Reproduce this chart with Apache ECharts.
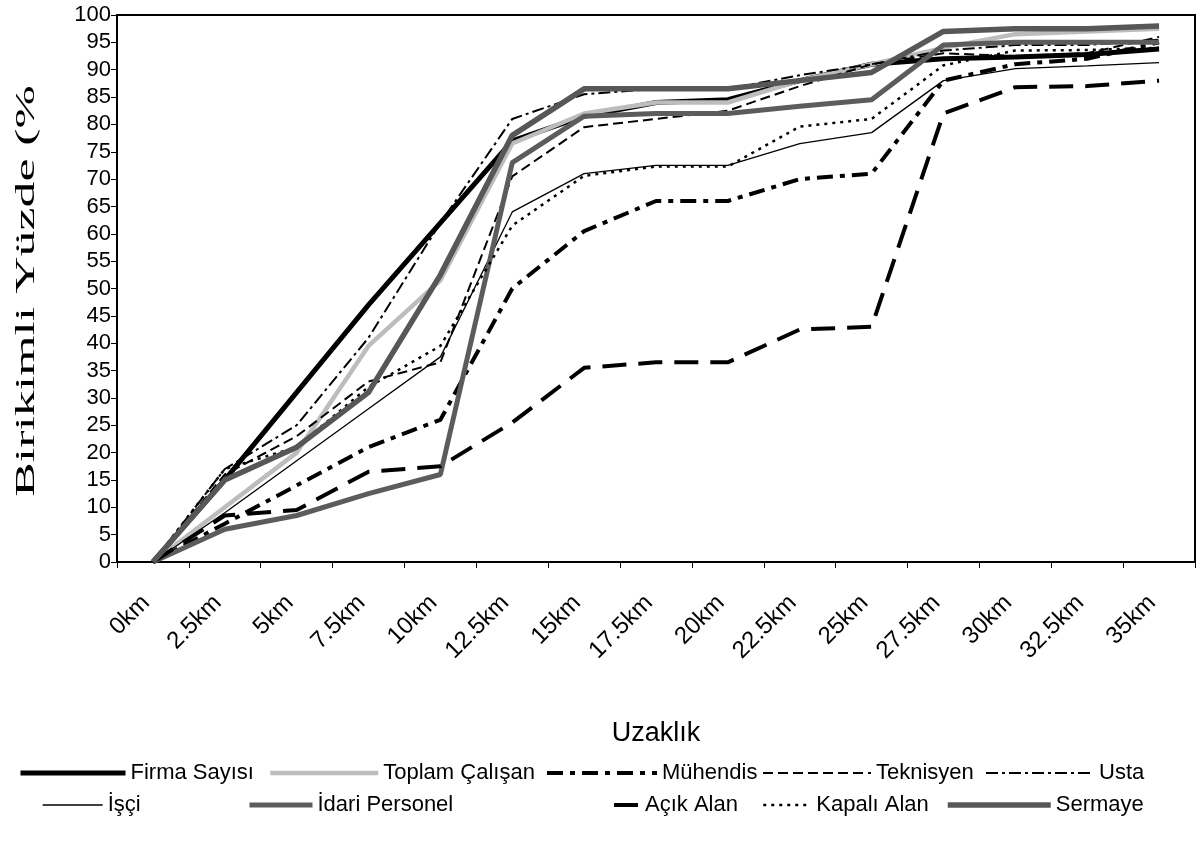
<!DOCTYPE html>
<html>
<head>
<meta charset="utf-8">
<script src="https://cdn.jsdelivr.net/npm/echarts@6/dist/echarts.min.js"></script>
<style>
html,body{margin:0;padding:0;background:#fff;}
#main{width:1202px;height:867px;}
</style>
</head>
<body>
<div id="main"></div>
<script>
// distances on the x axis
var categories = ['0km','2.5km','5km','7.5km','10km','12.5km','15km','17.5km','20km','22.5km','25km','27.5km','30km','32.5km','35km'];

// cumulative percentages
var firma     = [0, 15, 31, 47, 62, 77, 81.5, 84, 84.5, 88, 91, 92, 92.3, 92.8, 93.8];
var toplam    = [0, 10, 20, 39.5, 51.5, 76.5, 82, 84, 84, 88, 91, 94, 96.5, 97, 97.5];
var muhendis  = [0, 7, 14, 21, 26, 50, 60.5, 66, 66, 70, 71, 88, 91, 92, 95];
var teknisyen = [0, 16, 23, 33, 36.5, 70.5, 79.5, 81, 82.5, 87, 91, 93, 92.5, 93, 96];
var usta      = [0, 17, 25, 41, 62, 81, 85.5, 86.5, 86.5, 89, 91, 93.5, 94.5, 94.5, 95.5];
var isci      = [0, 9, 18.5, 28, 37.5, 64, 71, 72.5, 72.5, 76.5, 78.5, 88, 90.2, 90.7, 91.3];
var idari     = [0, 6, 8.5, 12.5, 16, 73, 81.5, 82, 82, 83.3, 84.5, 94.5, 95, 95, 95];
var acik      = [0, 8.5, 9.5, 16.5, 17.5, 25.5, 35.5, 36.5, 36.5, 42.5, 43, 82, 86.8, 87, 88];
var kapali    = [0, 17, 21, 32, 39.5, 61.5, 70.6, 72.3, 72.3, 79.6, 81, 90.8, 93.5, 93.6, 94];
var sermaye   = [0, 15, 21, 31, 52.5, 78, 86.5, 86.5, 86.5, 88, 89.5, 97, 97.5, 97.5, 98];

var names = ['Firma Sayısı','Toplam Çalışan','Mühendis','Teknisyen','Usta','İşçi','İdari Personel','Açık Alan','Kapalı Alan','Sermaye'];
var values = [firma, toplam, muhendis, teknisyen, usta, isci, idari, acik, kapali, sermaye];

var styles = [
  {color:'#000', width:5, type:'solid'},
  {color:'#bdbdbd', width:4.5, type:'solid'},
  {color:'#000', width:4, type:[16,7,5,7]},
  {color:'#000', width:2, type:[10,5]},
  {color:'#000', width:2, type:[12,4,3,4]},
  {color:'#000', width:1.3, type:'solid'},
  {color:'#5c5c5c', width:5, type:'solid'},
  {color:'#000', width:4, type:[24,12]},
  {color:'#000', width:2.5, type:[3,5]},
  {color:'#575757', width:5.5, type:'solid'}
];

// legend boxes: [left, top, sample width]
var legendPos = [
  [18,762,105],[268,762,108],[545,762,110],[762,762,108],[985,762,108],
  [42,794,60],[247,794,63],[612,794,26],[762,794,48],[945,794,103]
];

var chart = echarts.init(document.getElementById('main'));

var series = names.map(function(n, i){
  return {
    name: n,
    type: 'line',
    data: values[i],
    symbol: 'none',
    smooth: false,
    lineStyle: {color: styles[i].color, width: styles[i].width, type: styles[i].type},
    itemStyle: {color: styles[i].color}
  };
});

var legends = names.map(function(n, i){
  return {
    data: [n],
    left: legendPos[i][0],
    top: legendPos[i][1],
    padding: 0,
    itemWidth: legendPos[i][2],
    itemHeight: 22,
    selectedMode: false,
    textStyle: {color:'#000', fontSize:22, fontFamily:'Liberation Sans', lineHeight:22},
    itemStyle: {opacity: 0},
    lineStyle: {width: styles[i].width}
  };
});

var option = {
  backgroundColor: '#fff',
  animation: false,
  grid: {
    left: 117, top: 15, right: 7, bottom: 305,
    show: true, borderColor: '#000', borderWidth: 2, backgroundColor: 'transparent'
  },
  legend: legends,
  xAxis: {
    type: 'category',
    data: categories,
    boundaryGap: true,
    name: 'Uzaklık',
    nameLocation: 'middle',
    nameGap: 158,
    nameTextStyle: {color:'#000', fontSize:27, fontFamily:'Liberation Sans'},
    axisLine: {lineStyle: {color:'#000', width:2}},
    axisTick: {show:true, length:6, lineStyle:{color:'#000', width:1}},
    axisLabel: {rotate:45, margin:30, padding:[0,10,0,0], color:'#000', fontSize:24, fontFamily:'Liberation Sans', interval:0},
    splitLine: {show:false}
  },
  yAxis: {
    type: 'value',
    min: 0, max: 100, interval: 5,
    axisLine: {show:true, lineStyle: {color:'#000', width:2}},
    axisTick: {show:true, length:6, lineStyle:{color:'#000', width:1}},
    axisLabel: {color:'#000', fontSize:22, fontFamily:'Liberation Sans', margin:6},
    splitLine: {show:false}
  },
  graphic: [{
    type: 'text',
    x: 27, y: 291,
    rotation: Math.PI / 2,
    scaleX: 1.85,
    style: {
      text: 'Birikimli Yüzde (%',
      font: '28px "Liberation Serif"',
      fill: '#000',
      align: 'center',
      verticalAlign: 'middle'
    }
  }],
  series: series
};

chart.setOption(option);
</script>
</body>
</html>
